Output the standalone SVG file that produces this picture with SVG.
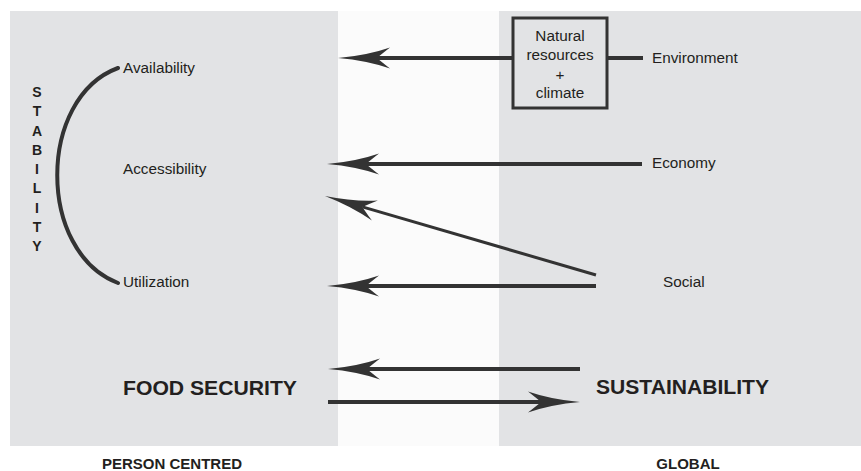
<svg xmlns="http://www.w3.org/2000/svg" width="861" height="471" viewBox="0 0 861 471">
  <style>
    .panel { fill: #e2e3e5; }
    .gap { fill: #fbfbfb; }
    .lbl { font-family: "Liberation Sans", Arial, sans-serif; font-size: 15.3px; fill: #231f20; }
    .mid { text-anchor: middle; }
    .head { font-family: "Liberation Sans", Arial, sans-serif; font-size: 21px; font-weight: bold; fill: #231f20; }
    .foot { font-family: "Liberation Sans", Arial, sans-serif; font-size: 15px; font-weight: bold; fill: #231f20; text-anchor: middle; }
    .stab { font-family: "Liberation Sans", Arial, sans-serif; font-size: 14px; font-weight: bold; fill: #231f20; text-anchor: middle; }
    .wire { fill: none; stroke: #333333; stroke-width: 4; }
    .thin { stroke-width: 3; }
    .arr { marker-end: url(#stealth); }
    .box { fill: none; stroke: #333333; stroke-width: 3; }
  </style>
  <defs>
    <!-- stealth arrowhead: origin sits on the line end, tip reaches 39 units ahead -->
    <marker id="stealth" markerUnits="userSpaceOnUse" viewBox="-14 -11 54 22" refX="0" refY="0" markerWidth="54" markerHeight="22" orient="auto" overflow="visible">
      <path d="M39,0 Q10,-2.5 -13,-10.5 Q-4,-3.5 0,0 Q-4,3.5 -13,10.5 Q10,2.5 39,0 Z" fill="#333333"/>
    </marker>
  </defs>

  <!-- background bands -->
  <g id="bands">
    <rect class="panel" x="10" y="11" width="328" height="435"/>
    <rect class="gap" x="338" y="11" width="161" height="435"/>
    <rect class="panel" x="499" y="11" width="362" height="435"/>
  </g>

  <!-- connectors -->
  <g id="connectors">
    <path class="wire" d="M118,68 C37,98 37,252 118,283" stroke-linecap="round"/>
    <path class="wire arr" d="M513,58 L377,58"/>
    <path class="wire" d="M607,58 L643,58"/>
    <path class="wire arr" d="M642,164 L366,164"/>
    <path class="wire thin arr" d="M596,275 L362.4,206.9"/>
    <path class="wire arr" d="M596,286 L366,286"/>
    <path class="wire arr" d="M580,369 L367,369"/>
    <path class="wire arr" d="M328,402 L541,402"/>
  </g>

  <!-- stability label -->
  <g id="stability">
    <text class="stab" x="37" y="97">S</text>
    <text class="stab" x="37" y="116.3">T</text>
    <text class="stab" x="37" y="135.5">A</text>
    <text class="stab" x="37" y="154.8">B</text>
    <text class="stab" x="37" y="174">I</text>
    <text class="stab" x="37" y="193.3">L</text>
    <text class="stab" x="37" y="212.5">I</text>
    <text class="stab" x="37" y="231.8">T</text>
    <text class="stab" x="37" y="251">Y</text>
  </g>

  <!-- food security dimensions -->
  <g id="availability"><text class="lbl" x="123" y="73">Availability</text></g>
  <g id="accessibility"><text class="lbl" x="123" y="174">Accessibility</text></g>
  <g id="utilization"><text class="lbl" x="123" y="287">Utilization</text></g>

  <!-- natural resources box -->
  <g id="natural-resources">
    <rect class="box" x="513" y="18" width="94" height="90"/>
    <text class="lbl mid" x="560" y="41">Natural</text>
    <text class="lbl mid" x="560" y="60">resources</text>
    <text class="lbl mid" x="560" y="80">+</text>
    <text class="lbl mid" x="560" y="98">climate</text>
  </g>

  <!-- global drivers -->
  <g id="environment"><text class="lbl" x="652" y="63">Environment</text></g>
  <g id="economy"><text class="lbl" x="652" y="168">Economy</text></g>
  <g id="social"><text class="lbl" x="663" y="287">Social</text></g>

  <!-- main concepts -->
  <g id="food-security"><text class="head" x="123" y="395" textLength="174" lengthAdjust="spacingAndGlyphs">FOOD SECURITY</text></g>
  <g id="sustainability"><text class="head" x="596" y="394" textLength="173" lengthAdjust="spacingAndGlyphs">SUSTAINABILITY</text></g>

  <!-- scope captions -->
  <g id="person-centred"><text class="foot" x="172" y="469">PERSON CENTRED</text></g>
  <g id="global"><text class="foot" x="688" y="469">GLOBAL</text></g>
</svg>
